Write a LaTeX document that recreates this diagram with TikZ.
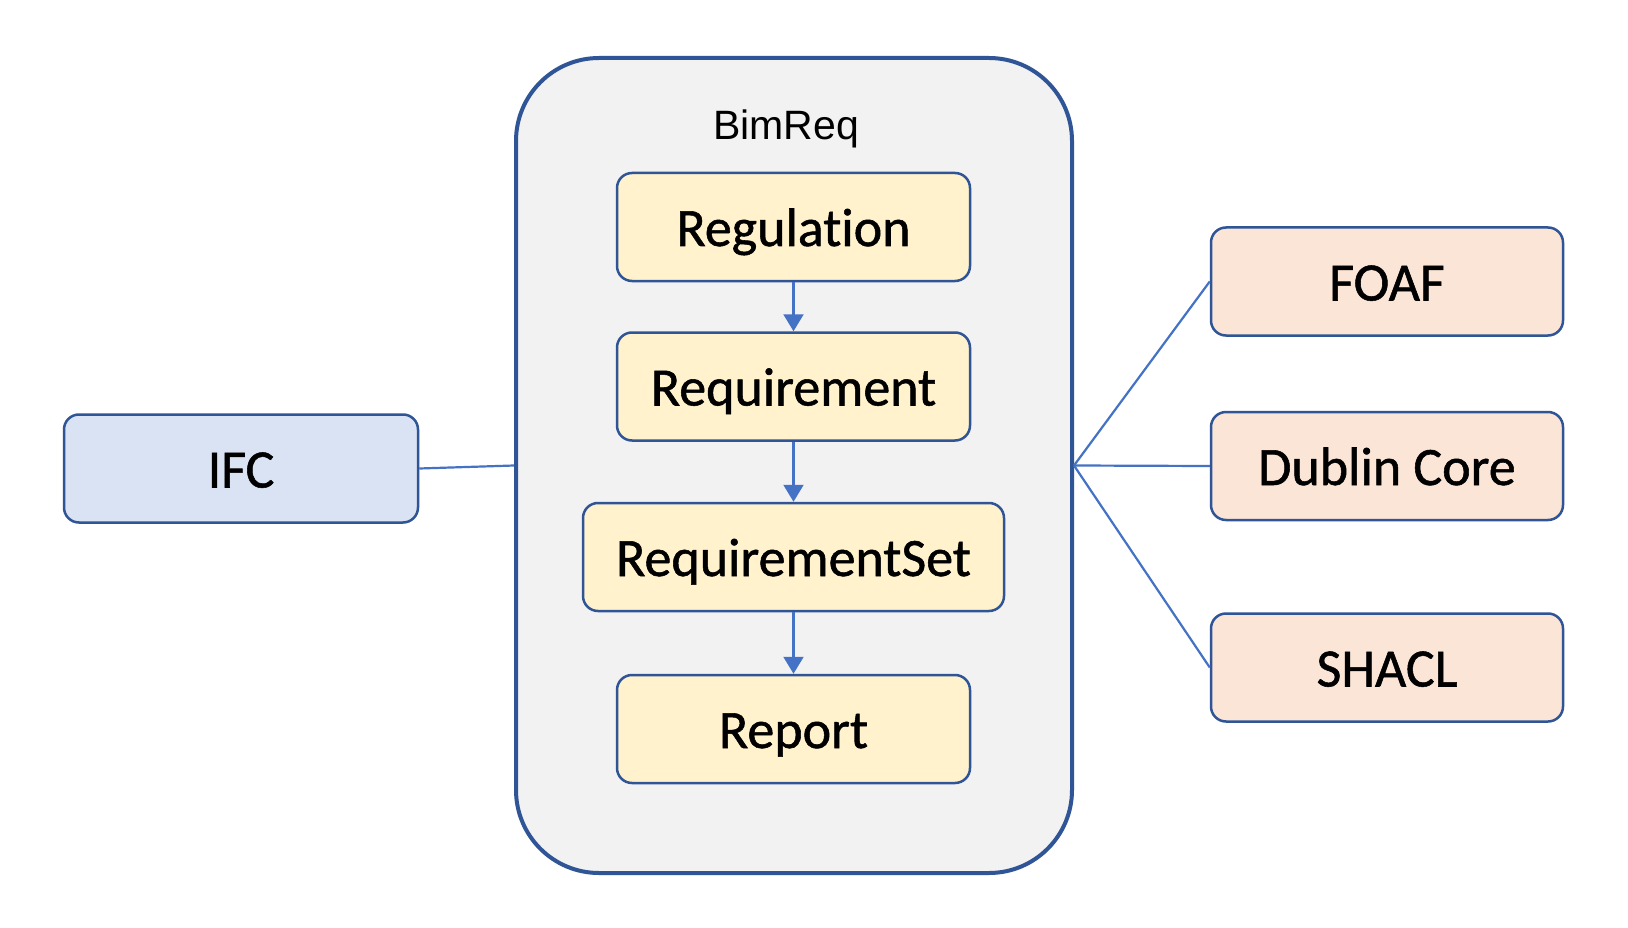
\documentclass[tikz,border=0pt]{standalone}
\usepackage{fontspec}
\setmainfont[Ligatures=NoCommon]{Carlito}
\newfontfamily\boxfont[Ligatures=NoCommon,FakeBold=1]{Carlito}
\newfontfamily\arialfont{Liberation Sans}
\usetikzlibrary{arrows.meta}
\definecolor{bordblue}{HTML}{2F5597}
\definecolor{connblue}{HTML}{4472C4}
\definecolor{contfill}{HTML}{F2F2F2}
\definecolor{yelfill}{HTML}{FFF2CC}
\definecolor{peachfill}{HTML}{FBE5D6}
\definecolor{bluefill}{HTML}{DAE3F3}
\tikzset{
  box/.style={draw=bordblue, line width=2.5pt, rounded corners=15pt,
    minimum width=353pt, minimum height=108pt, inner sep=0pt,
    font=\boxfont\fontsize{54}{60}\selectfont, text height=38pt, text depth=0pt},
  yelbox/.style={box, fill=yelfill},
  peachbox/.style={box, fill=peachfill, minimum width=352pt},
  bluebox/.style={box, fill=bluefill, minimum width=354pt},
  container/.style={draw=bordblue, line width=4pt, fill=contfill,
    rounded corners=83pt, minimum width=556pt, minimum height=815pt, inner sep=0pt},
  conn/.style={draw=connblue, line width=2.2pt},
  flow/.style={conn, -{Triangle[width=20pt,length=17pt]}}
}
\begin{document}
\begin{tikzpicture}[x=1pt,y=-1pt]
  \fill[white] (0,0) rectangle (1628,928);
  \useasboundingbox (0,0) rectangle (1628,928);

  \node[container] (cont) at (794,465.5) {};
  \node[anchor=base, inner sep=0pt, font=\arialfont\fontsize{41}{48}\selectfont] (title) at (786,140) {BimReq};

  \node[yelbox] (reg) at (793.5,227) {Regulation};
  \node[yelbox] (req) at (793.5,386.5) {Requirement};
  \node[yelbox, minimum width=421pt] (rset) at (793.5,557) {RequirementSet};
  \node[yelbox] (rep) at (793.5,729) {Report};

  \node[bluebox] (ifc) at (241,468.5) {IFC};

  \node[peachbox] (foaf) at (1387,281.5) {FOAF};
  \node[peachbox] (dc) at (1387,466) {Dublin Core};
  \node[peachbox] (shacl) at (1387,667.5) {SHACL};

  \draw[flow] (reg.south) -- (req.north);
  \draw[flow] (req.south) -- (rset.north);
  \draw[flow] (rset.south) -- (rep.north);

  \draw[conn] (ifc.east) -- (cont.west);
  \draw[conn] (cont.east) -- (foaf.west);
  \draw[conn] (cont.east) -- (dc.west);
  \draw[conn] (cont.east) -- (shacl.west);
\end{tikzpicture}
\end{document}
